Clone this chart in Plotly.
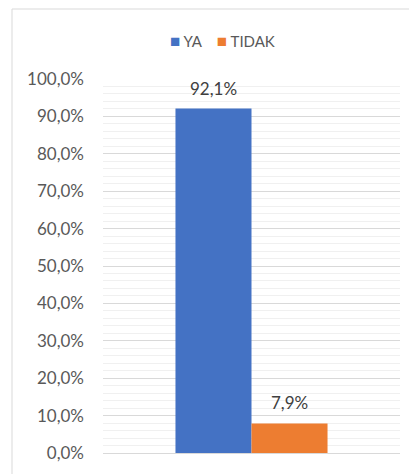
import plotly.graph_objects as go

category = [0]
series_names = ["YA", "TIDAK"]
series_values = [[0.921], [0.079]]
series_labels = ["92,1%", "7,9%"]
colors = ["#4472C4", "#ED7D31"]
tick_vals = [i / 10 for i in range(11)]

W, H = 409, 474
L, R, T, B = 103, 9, 79, 21
pw, ph = W - L - R, H - T - B
bar_w = 0.256
offsets = [-bar_w, 0.0]

fig = go.Figure()
for name, vals, col, off in zip(series_names, series_values, colors, offsets):
    fig.add_trace(go.Bar(
        x=category, y=vals, name=name, marker_color=col, marker_line_width=0,
        width=bar_w, offset=off, showlegend=False,
    ))

annotations = []
for vals, lab, off in zip(series_values, series_labels, offsets):
    annotations.append(dict(
        x=category[0] + off + bar_w / 2, y=vals[0], xref="x", yref="y",
        text=lab, showarrow=False, yanchor="bottom", yshift=8,
        font=dict(size=17, color="#404040"),
    ))

legend_text = "&nbsp;&nbsp;&nbsp;&nbsp;".join(
    f"<span style='color:{c};font-size:17px'>■</span>&nbsp;{n}"
    for n, c in zip(series_names, colors)
)
annotations.append(dict(
    x=(222 - L) / pw, y=(H - B - 40) / ph, xref="paper", yref="paper",
    text=legend_text, showarrow=False, xanchor="center", yanchor="middle",
    font=dict(size=15, color="#595959"),
))

fontfam = "Lato, 'Open Sans', sans-serif"
fig.update_layout(
    width=W, height=H,
    margin=dict(l=L, r=R, t=T, b=B, autoexpand=False),
    paper_bgcolor="white", plot_bgcolor="white",
    separators=",.",
    font=dict(family=fontfam, color="#595959", size=17),
    barmode="overlay",
    showlegend=False,
    xaxis=dict(range=[-0.5, 0.5], showticklabels=False, showgrid=False,
               zeroline=False, showline=False, fixedrange=True, automargin=False),
    yaxis=dict(range=[0, 1], tickvals=tick_vals, tickformat=".1%",
               automargin=False, ticklabelstandoff=18,
               showgrid=True, gridcolor="#D9D9D9", gridwidth=1,
               zeroline=True, zerolinecolor="#D9D9D9", zerolinewidth=1,
               ticks="", ticklen=0, showline=False,
               tickfont=dict(size=17, color="#595959"),
               minor=dict(dtick=0.02, showgrid=True, gridcolor="#F0F0F0", gridwidth=1)),
    annotations=annotations,
    shapes=[dict(type="rect", xref="paper", yref="paper",
                 x0=(12 - L) / pw, x1=(W + 40 - L) / pw,
                 y0=(H - B - (H + 40)) / ph, y1=(H - B - 9) / ph,
                 line=dict(color="#D9D9D9", width=1), fillcolor="rgba(0,0,0,0)",
                 layer="below")],
)

fig.write_html("out.html", config={"displayModeBar": False},
               post_script="document.body.style.margin='0px';")
